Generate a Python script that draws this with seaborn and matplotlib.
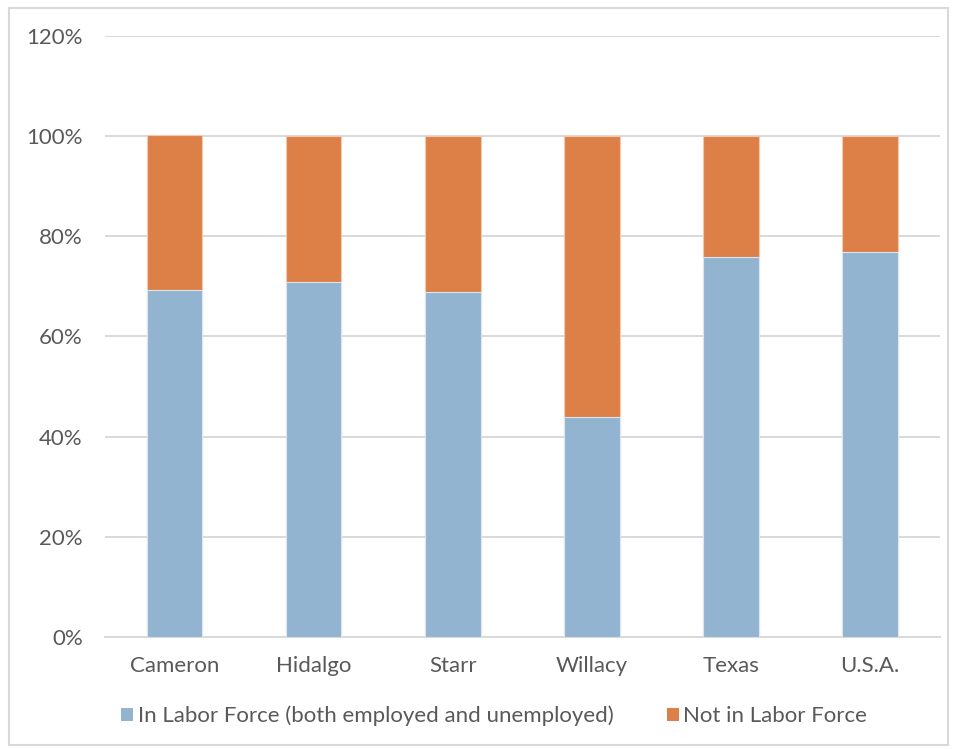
import matplotlib
matplotlib.use("Agg")
import matplotlib.pyplot as plt
from matplotlib.patches import Patch, Rectangle
from matplotlib.ticker import PercentFormatter
import seaborn as sns
import pandas as pd

areas = ["Cameron", "Hidalgo", "Starr", "Willacy", "Texas", "U.S.A."]
in_labor_force = [69.3, 70.9, 68.9, 44.0, 75.9, 76.9]
not_in_labor_force = [30.9, 29.1, 31.1, 56.0, 24.1, 23.1]
series_names = ["In Labor Force (both employed and unemployed)", "Not in Labor Force"]

blue = "#93b4d1"
orange = "#dd8048"
grid_gray = "#d9d9d9"
text_gray = "#595959"

sns.set_theme(style="white")
plt.rcParams["font.family"] = ["Lato", "DejaVu Sans"]

df = pd.DataFrame({
    "area": areas,
    "in_lf": in_labor_force,
    "total": [a + b for a, b in zip(in_labor_force, not_in_labor_force)],
})

fig = plt.figure(figsize=(9.54, 7.49), dpi=100)
ax = fig.add_axes([0.110, 0.1495, 0.875, 0.8025])

# stacked bars: full height in orange, labor-force share in blue over it
sns.barplot(data=df, x="area", y="total", color=orange, saturation=1,
            width=0.4, edgecolor="#f3c9ae", linewidth=0.8, ax=ax, zorder=3)
sns.barplot(data=df, x="area", y="in_lf", color=blue, saturation=1,
            width=0.4, edgecolor="#dbe6f0", linewidth=0.8, ax=ax, zorder=4)

ax.set_ylim(0, 120)
ax.set_yticks(range(0, 121, 20))
ax.yaxis.set_major_formatter(PercentFormatter(decimals=0))
ax.set_xlim(-0.5, len(areas) - 0.5)
ax.set_xlabel("")
ax.set_ylabel("")
ax.grid(axis="y", color=grid_gray, linewidth=1.4, zorder=0)
ax.set_axisbelow(True)
for side in ("left", "right", "top"):
    ax.spines[side].set_visible(False)
ax.spines["bottom"].set_color(grid_gray)
ax.spines["bottom"].set_linewidth(1.4)
ax.tick_params(axis="both", length=0, labelsize=16, labelcolor=text_gray)
ax.tick_params(axis="x", pad=14)
ax.tick_params(axis="y", pad=16)

handles = [Patch(facecolor=blue, edgecolor="none"),
           Patch(facecolor=orange, edgecolor="none")]
fig.legend(handles, series_names, loc="center", bbox_to_anchor=(0.518, 0.044),
           ncol=2, frameon=False, fontsize=16, labelcolor=text_gray,
           handlelength=0.55, handleheight=0.55, handletextpad=0.2,
           columnspacing=2.4)

fig.patches.append(Rectangle((0.009, 0.005), 0.985, 0.984, transform=fig.transFigure,
                             fill=False, edgecolor=grid_gray, linewidth=1.5))

fig.savefig("out.png", dpi=100, facecolor="white")
